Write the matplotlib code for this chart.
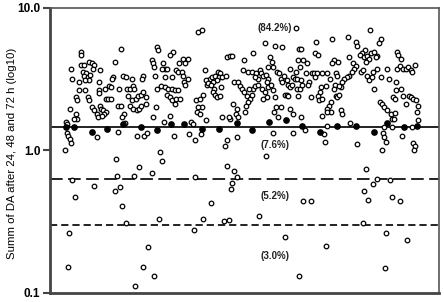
import numpy as np
import matplotlib
matplotlib.use('Agg')
import matplotlib.pyplot as plt
from matplotlib.ticker import FixedLocator, FixedFormatter, NullLocator

plt.rcParams['font.family'] = ['Liberation Sans', 'DejaVu Sans']

# (sample, log10 of summed DA)
open_a = [(31,0.69),(31,0.67),(71,0.71),(65,0.62),(39,0.62),(42,0.61),(44,0.60),(43,0.57),(31,0.60),(34,0.60),
          (21,0.57),(50,0.56),(33,0.55),(36,0.54),(34,0.52),(38,0.51),(40,0.53),(39,0.49),(35,0.49),(22,0.50),
          (29,0.48),(49,0.48),(63,0.51),(62,0.50),(73,0.52),(76,0.51),(82,0.50),(93,0.52),(92,0.50),(29,0.42),
          (35,0.42),(49,0.42),(55,0.43),(59,0.45),(61,0.44),(26,0.37),(27,0.35),(38,0.37),(39,0.35),(49,0.40),
          (56,0.36),(58,0.36),(61,0.36),(69,0.43),(77,0.43),(80,0.43),(83,0.45),(84,0.43),(78,0.38),(82,0.35),
          (86,0.36),(88,0.38),(91,0.39),(93,0.41),(96,0.37),(20,0.29),(26,0.25),(27,0.22),(24,0.22),(42,0.30),
          (44,0.28),(47,0.25),(48,0.23),(50,0.31),(51,0.29),(53,0.28),(56,0.27),(54,0.25),(52,0.24),(68,0.31),
          (71,0.31),(74,0.25),(72,0.23),(80,0.31),(83,0.29),(87,0.28),(89,0.29),(91,0.31),(96,0.32),(75,0.19),
          (68,0.13),(16,0.20),(17,0.18),(47,0.09),(87,0.10),(94,0.10),(97,0.12),
          (17,0.12),(18,0.10),(20,0.08),(21,0.05),
          (15,0.00),(66,-0.06),(89,-0.12),(67,-0.18),(22,-0.21),(84,-0.18),(44,-0.25),(65,-0.29),(70,-0.26),(25,-0.33),
          (72,-0.39),(76,-0.51),(19,-0.58),(98,-0.68),(18,-0.82),(93,-0.82),(85,-0.95)]

open_b = [(148,0.83),(152,0.84),(215,0.75),(225,0.73),(232,0.72),(249,0.71),(107,0.72),(108,0.70),(123,0.69),(120,0.67),
          (133,0.64),(138,0.64),(129,0.61),(135,0.61),(102,0.63),(103,0.61),(104,0.58),(113,0.61),(115,0.57),(112,0.57),
          (117,0.57),(126,0.56),(128,0.55),(132,0.55),(177,0.65),(180,0.66),(182,0.66),(194,0.63),(203,0.68),(155,0.56),
          (105,0.52),(115,0.51),(122,0.51),(133,0.52),(134,0.48),(135,0.46),(138,0.50),(160,0.50),(162,0.51),(165,0.52),
          (168,0.55),(170,0.54),(169,0.51),(172,0.51),(167,0.49),(163,0.48),(156,0.49),(176,0.52),(184,0.48),(188,0.48),
          (193,0.56),(198,0.55),(202,0.55),(206,0.54),(208,0.50),(205,0.51),(210,0.56),(211,0.54),(213,0.52),(216,0.53),
          (218,0.50),(217,0.48),(220,0.65),(222,0.62),(218,0.58),(223,0.58),(227,0.55),(229,0.54),(231,0.50),(234,0.52),
          (237,0.49),(232,0.48),(238,0.46),(240,0.57),(243,0.51),(245,0.50),(247,0.50),(248,0.63),(246,0.55),
          (107,0.43),(111,0.45),(115,0.44),(118,0.43),(122,0.43),(125,0.42),(128,0.42),(117,0.39),(120,0.37),(122,0.35),
          (126,0.36),(130,0.36),(125,0.32),(106,0.30),(103,0.23),(146,0.35),(150,0.36),(153,0.39),(152,0.30),(148,0.30),
          (147,0.27),(150,0.25),(156,0.21),(157,0.46),(158,0.47),(161,0.46),(164,0.43),(163,0.41),(165,0.39),(167,0.37),
          (170,0.38),(171,0.44),(172,0.23),(180,0.22),(186,0.25),(188,0.23),(187,0.29),(183,0.32),(190,0.45),(192,0.43),
          (194,0.41),(197,0.38),(200,0.36),(198,0.34),(196,0.31),(195,0.27),(202,0.39),(203,0.43),(199,0.43),(205,0.45),
          (208,0.46),(212,0.43),(215,0.41),(217,0.37),(213,0.36),(218,0.44),(221,0.46),(223,0.42),(225,0.37),(226,0.30),
          (224,0.27),(231,0.30),(228,0.23),(235,0.39),(237,0.39),(238,0.38),(240,0.44),(242,0.46),(247,0.43),(248,0.38),
          (240,0.29),(243,0.25),(114,0.20),(120,0.24),(141,0.20),(143,0.18),(179,0.23),
          (124,0.10),(139,0.11),(151,0.11),(145,0.07),(175,0.03),(177,0.07),(187,0.09),(223,0.12),(243,0.12),
          (110,-0.01),(112,-0.08),(102,-0.16),(216,-0.04),(177,-0.11),(184,-0.15),(187,-0.19),(182,-0.23),(181,-0.27),(145,-0.19),
          (161,-0.37),(109,-0.48),(153,-0.48),(174,-0.50),(179,-0.49),(209,-0.46),(144,-0.56),(235,-0.61),(104,-0.88),(249,-0.88)]

open_c = [(320,0.84),(246,0.86),(298,0.79),(282,0.78),(306,0.76),(307,0.73),(331,0.78),(329,0.75),(266,0.76),(251,0.71),
          (265,0.68),(268,0.67),(315,0.70),(312,0.68),(310,0.67),(314,0.65),(317,0.66),(321,0.68),(324,0.69),(327,0.66),
          (326,0.65),(319,0.64),(316,0.62),(347,0.69),(348,0.67),(351,0.64),(253,0.63),(257,0.61),(250,0.58),(284,0.63),
          (282,0.61),(288,0.62),(299,0.65),(303,0.61),(306,0.59),(304,0.57),(302,0.55),(299,0.52),(297,0.51),(294,0.50),
          (292,0.48),(291,0.44),(311,0.55),(313,0.56),(317,0.52),(319,0.49),(323,0.55),(322,0.51),(327,0.57),(331,0.51),
          (337,0.57),(339,0.50),(324,0.43),(347,0.57),(350,0.59),(353,0.57),(356,0.57),(358,0.58),(361,0.56),(362,0.55),
          (365,0.60),(346,0.48),(346,0.42),(343,0.37),(345,0.36),(351,0.43),(353,0.38),(356,0.32),(359,0.38),(361,0.37),
          (363,0.36),(366,0.35),(368,0.31),(367,0.27),(368,0.21),(250,0.43),(252,0.46),(251,0.49),(256,0.54),(259,0.48),
          (258,0.46),(262,0.54),(264,0.54),(267,0.54),(265,0.51),(272,0.54),(277,0.54),(280,0.50),(276,0.45),(271,0.44),
          (270,0.41),(268,0.38),(261,0.37),(269,0.35),(272,0.36),(286,0.54),(285,0.46),(284,0.43),(289,0.45),(287,0.52),
          (281,0.34),(279,0.31),(277,0.29),(281,0.27),(277,0.27),(286,0.38),(287,0.37),(289,0.39),(291,0.28),(292,0.25),
          (272,0.24),(251,0.23),(330,0.34),(332,0.32),(334,0.30),(337,0.28),(341,0.25),(342,0.22),(344,0.22),(345,0.26),
          (300,0.19),(277,0.17),(334,0.16),(342,0.16),(362,0.16),
          (255,0.14),(274,0.11),(275,0.06),(307,0.04),(333,0.12),(334,0.09),(336,0.06),(352,0.10),(363,0.05),(365,0.03),
          (332,0.00),(364,0.00),(316,-0.13),(327,-0.20),(340,-0.21),(323,-0.24),(314,-0.29),(318,-0.35),(342,-0.33),(350,-0.36),
          (253,-0.36),(261,-0.36),(313,-0.51),(336,-0.58),(357,-0.63),(276,-0.67),(335,-0.83)]

filled = [(16,0.16),(24,0.16),(42,0.13),(57,0.15),(73,0.18),(91,0.16),
          (107,0.14),(121,0.18),(134,0.18),(152,0.15),(169,0.15),(187,0.19),(202,0.14),(219,0.20),(236,0.21),
          (252,0.17),(270,0.13),(287,0.17),(306,0.17),(324,0.13),(337,0.19),(354,0.16),(367,0.17)]

cutoffs = [1.46, 0.632, 0.296]
cutoff_styles = ['-', (0, (7, 3)), (0, (4, 2.2))]
percent_labels = ['(84.2%)', '(7.6%)', '(5.2%)', '(3.0%)']
percent_y = [7.23, 1.08, 0.477, 0.182]
ytick_vals = [0.1, 1.0, 10.0]
ytick_labels = ['0.1', '1.0', '10.0']

opn = np.array(open_a + open_b + open_c)
fil = np.array(filled)

fig = plt.figure(figsize=(4.44, 3.02), dpi=100)
ax = fig.add_axes([0.1126, 0.031, 0.876, 0.944])

for c, ls in zip(cutoffs, cutoff_styles):
    ax.axhline(c, color='#111111', lw=1.3, linestyle=ls, zorder=1)

ax.plot(opn[:, 0], 10 ** opn[:, 1], 'o', ms=3.3, mfc='white', mec='black', mew=0.9, zorder=3)
ax.plot(fil[:, 0], 10 ** fil[:, 1], 'o', ms=3.9, mfc='black', mec='black', mew=0.9, zorder=4)

for lab, yv in zip(percent_labels, percent_y):
    ax.text(225, yv, lab, ha='center', va='center', fontsize=7, fontweight='bold', color='#222222')

ax.set_yscale('log')
ax.set_ylim(0.1, 10)
ax.set_xlim(0, 389)
ax.yaxis.set_major_locator(FixedLocator(ytick_vals))
ax.yaxis.set_major_formatter(FixedFormatter(ytick_labels))
ax.yaxis.set_minor_locator(NullLocator())
ax.xaxis.set_major_locator(NullLocator())
ax.xaxis.set_minor_locator(NullLocator())
ax.tick_params(axis='y', length=5, width=1.5, color='#444444', labelsize=8.5, pad=2)
for t in ax.get_yticklabels():
    t.set_fontweight('bold')

for side in ['left', 'bottom']:
    ax.spines[side].set_linewidth(2)
    ax.spines[side].set_color('#444444')
for side in ['top', 'right']:
    ax.spines[side].set_linewidth(1.2)
    ax.spines[side].set_color('#555555')

ax.set_ylabel('Summ of DA after 24, 48 and 72 h (log10)', fontsize=8.2)
ax.yaxis.set_label_coords(-0.085, 0.49)

fig.savefig('out.png', dpi=100)
